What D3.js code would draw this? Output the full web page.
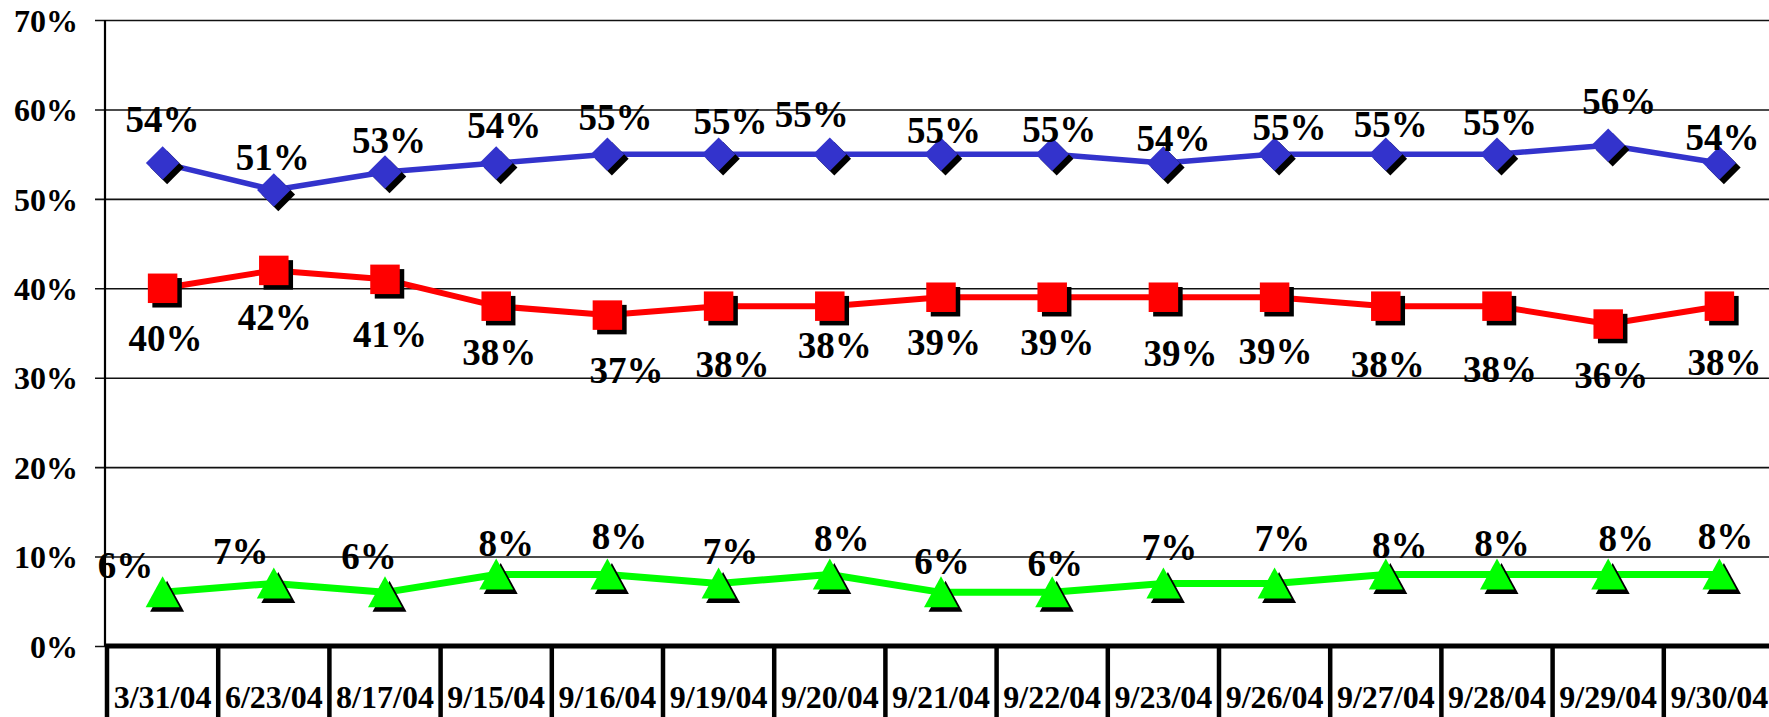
<!DOCTYPE html>
<html>
<head>
<meta charset="utf-8">
<script src="https://cdn.jsdelivr.net/npm/d3@7"></script>
<style>
  body { margin: 0; background: #fff; }
</style>
</head>
<body>
<div id="my_dataviz"></div>
<script>
// data
let dates = ["3/31/04","6/23/04","8/17/04","9/15/04","9/16/04","9/19/04","9/20/04","9/21/04",
             "9/22/04","9/23/04","9/26/04","9/27/04","9/28/04","9/29/04","9/30/04"];
let blueValues  = [54,51,53,54,55,55,55,55,55,54,55,55,55,56,54];
let redValues   = [40,42,41,38,37,38,38,39,39,39,39,38,38,36,38];
let greenValues = [6,7,6,8,8,7,8,6,6,7,7,8,8,8,8];
let yTicks = [0,10,20,30,40,50,60,70];

// label nudges relative to each point (the labels were placed by hand in the original)
let blueLabelNudge  = [[0,-44],[-1,-33],[4,-32],[8,-38],[8,-37],[12,-33],[-18,-40],[3,-24],
                       [7,-25],[10,-25],[15,-27],[5,-30],[3,-32],[11,-44],[3,-26]];
let redLabelNudge   = [[3,50],[1,47],[5,55],[3,46],[19,55],[14,58],[5,39],[3,45],
                       [5,45],[17,56],[1,54],[2,58],[3,63],[3,51],[5,56]];
let greenLabelNudge = [[-37,-27],[-33,-32],[-16,-36],[10,-31],[12,-38],[12,-32],[12,-36],[1,-31],
                       [3,-29],[6,-36],[8,-45],[14,-29],[5,-31],[18,-36],[6,-38]];

let width = 1769, height = 717;
let plotLeft = 105, plotTop = 20, plotBottom = 646;
let serif = "'Liberation Serif', 'Times New Roman', Times, serif";

let svg = d3.select("#my_dataviz")
  .append("svg")
    .attr("width", width)
    .attr("height", height);

// scales
let x = d3.scaleBand()
  .domain(dates)
  .range([107, 107 + dates.length * 111.2]);

let y = d3.scaleLinear()
  .domain([0, 70])
  .range([plotBottom, plotTop]);

// gridlines + y labels
let yAxis = svg.append("g")
  .attr("transform", "translate(95,0)")
  .call(d3.axisLeft(y)
    .tickValues(yTicks)
    .tickSize(-(width - 95))
    .tickPadding(17)
    .tickFormat(d => d + "%"));
yAxis.select(".domain").remove();
yAxis.selectAll(".tick line").attr("stroke", "#111").attr("stroke-width", 1.6);
yAxis.selectAll(".tick text")
  .attr("fill", "#000")
  .attr("dy", "0.35em")
  .style("font-family", serif)
  .style("font-weight", "bold")
  .style("font-size", "32px");

// vertical axis line
svg.append("line")
  .attr("x1", plotLeft).attr("x2", plotLeft)
  .attr("y1", y(70)).attr("y2", y(0))
  .attr("stroke", "#000").attr("stroke-width", 2.2);

// thick x axis line
svg.append("line")
  .attr("x1", plotLeft).attr("x2", width)
  .attr("y1", y(0)).attr("y2", y(0))
  .attr("stroke", "#000").attr("stroke-width", 5);

// category separators
svg.append("g")
  .selectAll("line")
  .data(dates)
  .enter()
  .append("line")
    .attr("x1", d => x(d)).attr("x2", d => x(d))
    .attr("y1", y(0)).attr("y2", height)
    .attr("stroke", "#000").attr("stroke-width", 4.5);

// category labels
let xAxis = svg.append("g")
  .attr("transform", "translate(0," + y(0) + ")")
  .call(d3.axisBottom(x).tickSize(0).tickPadding(39));
xAxis.select(".domain").remove();
xAxis.selectAll(".tick text")
  .attr("fill", "#000")
  .style("font-family", serif)
  .style("font-weight", "bold")
  .style("font-size", "32px");

// triangle centred on its bounding box, like the original marker
let triangle = {
  draw: function(ctx) {
    ctx.moveTo(0, -16);
    ctx.lineTo(17, 15);
    ctx.lineTo(-17, 15);
    ctx.closePath();
  }
};

// series
let series = [
  {values: blueValues,  nudge: blueLabelNudge,  color: "#3333CC", width: 5.5, symbol: d3.symbolSquare, size: 560, rotate: 45},
  {values: redValues,   nudge: redLabelNudge,   color: "#FF0000", width: 6,   symbol: d3.symbolSquare, size: 870, rotate: 0},
  {values: greenValues, nudge: greenLabelNudge, color: "#00FF00", width: 7,   symbol: triangle,        size: 64,  rotate: 0}
];

let cx = d => x(d) + x.bandwidth() / 2;

series.forEach(function(s) {
  let pts = dates.map((d, i) => [cx(d), y(s.values[i])]);

  svg.append("path")
    .datum(pts)
    .attr("fill", "none")
    .attr("stroke", s.color)
    .attr("stroke-width", s.width)
    .attr("stroke-linejoin", "round")
    .attr("d", d3.line());

  let sym = d3.symbol().type(s.symbol).size(s.size);

  // shadow
  svg.append("g")
    .selectAll("path")
    .data(pts)
    .enter()
    .append("path")
      .attr("d", sym)
      .attr("fill", "#000")
      .attr("transform", d => "translate(" + (d[0] + 4.5) + "," + (d[1] + 4.5) + ") rotate(" + s.rotate + ")");

  svg.append("g")
    .selectAll("path")
    .data(pts)
    .enter()
    .append("path")
      .attr("d", sym)
      .attr("fill", s.color)
      .attr("transform", d => "translate(" + d[0] + "," + d[1] + ") rotate(" + s.rotate + ")");

  // value labels
  svg.append("g")
    .selectAll("text")
    .data(pts)
    .enter()
    .append("text")
      .attr("x", (d, i) => d[0] + s.nudge[i][0])
      .attr("y", (d, i) => d[1] + s.nudge[i][1])
      .attr("dy", "0.35em")
      .attr("text-anchor", "middle")
      .attr("fill", "#000")
      .style("font-family", serif)
      .style("font-weight", "bold")
      .style("font-size", "37px")
      .text((d, i) => s.values[i] + "%");
});
</script>
</body>
</html>
